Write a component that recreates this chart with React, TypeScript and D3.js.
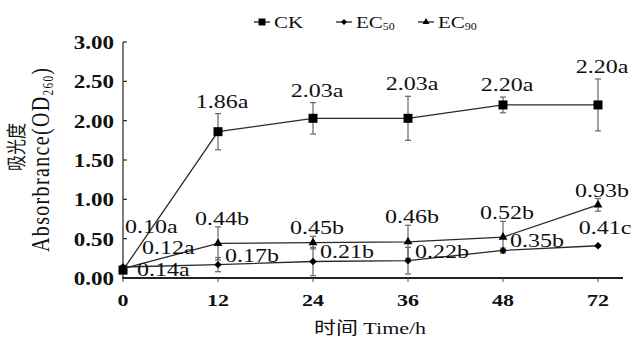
import * as d3 from "d3";

// time points (categorical, evenly spaced on the x axis)
const categories = ["0", "12", "24", "36", "48", "72"];
const ckMean = [0.1, 1.86, 2.03, 2.03, 2.2, 2.2];
const ckErr = [0.02, 0.23, 0.2, 0.28, 0.1, 0.33];
const ec50Mean = [0.14, 0.17, 0.21, 0.22, 0.35, 0.41];
const ec50Err = [0.02, 0.09, 0.18, 0.17, 0.03, 0.01];
const ec90Mean = [0.12, 0.44, 0.45, 0.46, 0.52, 0.93];
const ec90Err = [0.02, 0.21, 0.08, 0.21, 0.2, 0.08];
const ckLetters = ["a", "a", "a", "a", "a", "a"];
const ec50Letters = ["a", "b", "b", "b", "b", "c"];
const ec90Letters = ["a", "b", "b", "b", "b", "b"];
const yTicks = [0, 0.5, 1, 1.5, 2, 2.5, 3];

const W = 633;
const H = 343;
const SY = 0.8; // the picture's text is squashed vertically
const FONT = "'Liberation Serif', 'Times New Roman', 'Noto Sans CJK SC', serif";

const x = d3.scalePoint<string>().domain(categories).range([123, 598]);
const y = d3.scaleLinear().domain([0, 3]).range([278, 42]);
const axisEnd = 623;

type Kind = "ck" | "ec50" | "ec90";
interface Series { key: Kind; label: string; sub: string; mean: number[]; err: number[]; letters: string[]; symbol: d3.SymbolType; size: number; rot: number; }

const series: Series[] = [
  { key: "ck", label: "CK", sub: "", mean: ckMean, err: ckErr, letters: ckLetters, symbol: d3.symbolSquare, size: 81, rot: 0 },
  { key: "ec50", label: "EC", sub: "50", mean: ec50Mean, err: ec50Err, letters: ec50Letters, symbol: d3.symbolSquare, size: 28, rot: 45 },
  { key: "ec90", label: "EC", sub: "90", mean: ec90Mean, err: ec90Err, letters: ec90Letters, symbol: d3.symbolTriangle, size: 34, rot: 0 },
];

function T({ x, y, anchor = "middle", size, weight = "normal", rotate = false, textLength, children }: any) {
  const tf = rotate
    ? `translate(${x},${y}) scale(1,${SY}) rotate(-90)`
    : `translate(${x},${y}) scale(1,${SY})`;
  return (
    <text transform={tf} textAnchor={anchor} fontSize={size} fontWeight={weight} fontFamily={FONT}
      fill="#111" textLength={textLength} lengthAdjust={textLength ? "spacing" : undefined}>
      {children}
    </text>
  );
}

// where each value label sits relative to its point
function labelPos(k: Kind, i: number, px: number, py: number, pTop: number) {
  if (k === "ck") {
    if (i === 0) return { x: px + 2, y: py - 37, anchor: "start" };
    return { x: px + 4, y: pTop - 6, anchor: "middle" };
  }
  if (k === "ec90") {
    if (i === 0) return { x: px + 19, y: py - 15, anchor: "start" };
    return { x: px + 4, y: pTop - 2, anchor: "middle" };
  }
  if (i === 0) return { x: px + 14, y: py + 9, anchor: "start" };
  if (i === categories.length - 1) return { x: px + 7, y: py - 12, anchor: "middle" };
  return { x: px + 7, y: py - 3, anchor: "start" };
}

export default function App() {
  const line = d3.line<number>().x((_, i) => x(categories[i])!).y(d => y(d));
  const sym = (s: Series, size: number) => d3.symbol().type(s.symbol).size(size)()!;
  const legendX = [254, 336, 418];

  return (
    <svg width={W} height={H} style={{ position: "absolute", left: 0, top: 0, background: "#fff" }}>
      {/* y axis */}
      <line x1={123} x2={123} y1={y(3)} y2={y(0)} stroke="#222" strokeWidth={1.2} />
      {yTicks.map(t => (
        <g key={t}>
          <line x1={123} x2={127} y1={y(t)} y2={y(t)} stroke="#222" strokeWidth={1.2} />
          <T x={114} y={y(t) + 7} anchor="end" size={23} weight="bold">{d3.format(".2f")(t)}</T>
        </g>
      ))}
      {/* x axis */}
      <line x1={122} x2={axisEnd} y1={y(0)} y2={y(0)} stroke="#222" strokeWidth={2.2} />
      {categories.map(c => (
        <g key={c}>
          <line x1={x(c)} x2={x(c)} y1={y(0)} y2={y(0) + 4} stroke="#444" strokeWidth={1} />
          <T x={x(c)} y={306} size={22} weight="bold">{c}</T>
        </g>
      ))}
      <T x={370} y={334} size={22}>时间 Time/h</T>
      <T x={24} y={147} size={20} rotate>吸光度</T>
      <T x={49} y={160} size={25} rotate textLength={230}>
        Absorbrance(OD<tspan fontSize={14} dy={4}>260</tspan><tspan dy={-4}>)</tspan>
      </T>

      {/* error bars */}
      {series.map(s => s.mean.map((m, i) => {
        const px = x(categories[i])!;
        const e = s.err[i];
        return (
          <g key={s.key + i} stroke="#666" strokeWidth={1.2}>
            <line x1={px} x2={px} y1={y(m + e)} y2={y(Math.max(0, m - e))} />
            <line x1={px - 3} x2={px + 3} y1={y(m + e)} y2={y(m + e)} />
            <line x1={px - 3} x2={px + 3} y1={y(Math.max(0, m - e))} y2={y(Math.max(0, m - e))} />
          </g>
        );
      }))}

      {/* lines and markers */}
      {series.map(s => (
        <g key={s.key}>
          <path d={line(s.mean)!} fill="none" stroke="#2a2a2a" strokeWidth={1.3} />
          {s.mean.map((m, i) => (
            <path key={i} d={sym(s, s.size)} fill="#000"
              transform={`translate(${x(categories[i])},${y(m)}) rotate(${s.rot})`} />
          ))}
        </g>
      ))}

      {/* value labels */}
      {series.map(s => s.mean.map((m, i) => {
        const px = x(categories[i])!;
        const p = labelPos(s.key, i, px, y(m), y(m + s.err[i]));
        return (
          <T key={s.key + "l" + i} x={p.x} y={p.y} anchor={p.anchor} size={24}>
            {d3.format(".2f")(m) + s.letters[i]}
          </T>
        );
      }))}

      {/* legend */}
      {series.map((s, i) => {
        const lx = legendX[i];
        return (
          <g key={"lg" + s.key}>
            <line x1={lx} x2={lx + 16} y1={22} y2={22} stroke="#222" strokeWidth={1.3} />
            <path d={sym(s, s.size * 0.6)} fill="#000" transform={`translate(${lx + 8},22) rotate(${s.rot})`} />
            <T x={lx + 20} y={28} anchor="start" size={21}>
              {s.label}
              {s.sub && <tspan fontSize={12} dy={3}>{s.sub}</tspan>}
            </T>
          </g>
        );
      })}
    </svg>
  );
}
